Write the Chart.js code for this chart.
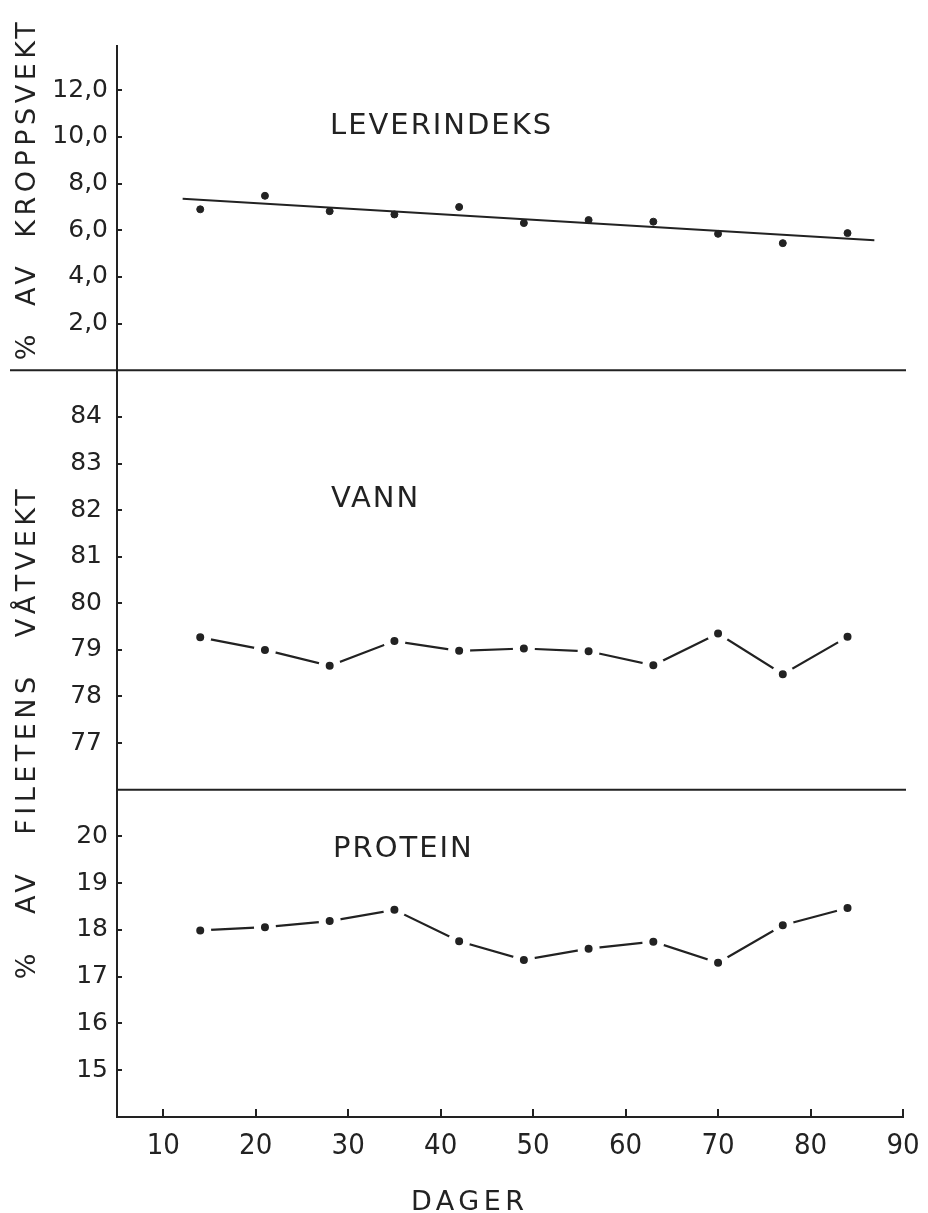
<!DOCTYPE html>
<html>
<head>
<meta charset="utf-8">
<script src="https://cdn.jsdelivr.net/npm/chart.js@4.4.0/dist/chart.umd.min.js"></script>
<style>
  html, body { margin: 0; padding: 0; background: #fff; }
  #wrap { position: relative; width: 928px; height: 1213px; }
  canvas { position: absolute; left: 0; top: 0; }
  .lbl { position: absolute; font-family: 'DejaVu Sans', sans-serif; color: #222; white-space: nowrap; line-height: 1; }
  .panel { font-size: 29px; letter-spacing: 2px; }
  .axt { font-size: 27px; letter-spacing: 4.5px; }
  .rot { transform: translate(-50%, -50%) rotate(-90deg); }
</style>
</head>
<body>
<div id="wrap">
  <canvas id="chart" width="928" height="1213"></canvas>
  <div class="lbl panel" style="left:330px; top:110px;">LEVERINDEKS</div>
  <div class="lbl panel" style="left:331px; top:483px;">VANN</div>
  <div class="lbl panel" style="left:333px; top:833px;">PROTEIN</div>
  <div class="lbl axt" style="left:411px; top:1187px;">DAGER</div>
  <div class="lbl axt rot" style="left:25px; top:189px; word-spacing:11px;">% AV KROPPSVEKT</div>
  <div class="lbl axt rot" style="left:25px; top:732px; word-spacing:22px;">% AV FILETENS VÅTVEKT</div>
</div>
<script>
// dager etter start
var days = [14, 21, 28, 35, 42, 49, 56, 63, 70, 77, 84];

// leverindeks, % av kroppsvekt
var leverindeks = [6.90, 7.48, 6.82, 6.68, 7.00, 6.31, 6.44, 6.37, 5.85, 5.45, 5.88];
// regresjonslinje (endepunkter)
var trendX = [12.1, 86.9];
var trendY = [7.35, 5.57];

// vann og protein, % av filetens våtvekt
var vann = [79.27, 79.00, 78.66, 79.19, 78.98, 79.03, 78.97, 78.67, 79.35, 78.48, 79.28];
var protein = [17.99, 18.06, 18.19, 18.43, 17.76, 17.36, 17.60, 17.75, 17.30, 18.10, 18.47];

var xTicks = [10, 20, 30, 40, 50, 60, 70, 80, 90];
var topTicks = [2, 4, 6, 8, 10, 12];
var midTicks = [77, 78, 79, 80, 81, 82, 83, 84];
var botTicks = [15, 16, 17, 18, 19, 20];

var ink = "#222";

function pts(ys) {
    return days.map(function (d, i) { return { x: d, y: ys[i] }; });
}

function yAxis(min, max, ticks, weight, stackWeight, pad, fmt) {
    return {
        type: "linear",
        position: "left",
        stack: "panels",
        stackWeight: stackWeight,
        weight: weight,
        min: min,
        max: max,
        afterBuildTicks: function (s) { s.ticks = ticks.map(function (v) { return { value: v }; }); },
        afterFit: function (s) { s.width = 117; },
        border: { display: true, color: ink, width: 2 },
        grid: { drawOnChartArea: false, drawTicks: true, tickLength: -5, color: ink, lineWidth: 2 },
        ticks: { padding: pad, color: ink, autoSkip: false, font: { family: "DejaVu Sans", size: 25 }, callback: fmt }
    };
}

// skillelinjer mellom panelene
var dividers = {
    id: "dividers",
    afterDraw: function (chart) {
        var ctx = chart.ctx, area = chart.chartArea, sc = chart.scales;
        ctx.save();
        ctx.strokeStyle = ink;
        ctx.lineWidth = 2;
        ctx.beginPath();
        ctx.moveTo(10, sc.yTop.bottom);
        ctx.lineTo(area.right + 3, sc.yTop.bottom);
        ctx.moveTo(area.left, sc.yMid.bottom);
        ctx.lineTo(area.right + 3, sc.yMid.bottom);
        ctx.stroke();
        ctx.restore();
    }
};

// linje uten markører, og markører med hvit ring som gir åpning i linja
function seriesLine(ys, axis) {
    return { data: pts(ys), yAxisID: axis, order: 2, pointRadius: 0,
             borderColor: ink, borderWidth: 2.2, fill: false, tension: 0 };
}
function seriesDots(ys, axis) {
    return { type: "scatter", data: pts(ys), yAxisID: axis, order: 1,
             pointRadius: 7.5, pointBorderWidth: 7,
             pointBackgroundColor: ink, pointBorderColor: "#fff" };
}

new Chart(document.getElementById("chart").getContext("2d"), {
    type: "line",
    data: {
        datasets: [
            { type: "scatter", data: pts(leverindeks), yAxisID: "yTop", order: 1, pointRadius: 3.5,
              backgroundColor: ink, borderColor: ink, pointBorderWidth: 1 },
            { data: [{ x: trendX[0], y: trendY[0] }, { x: trendX[1], y: trendY[1] }], yAxisID: "yTop",
              order: 2, pointRadius: 0, borderColor: ink, borderWidth: 2 },
            seriesLine(vann, "yMid"),
            seriesDots(vann, "yMid"),
            seriesLine(protein, "yBot"),
            seriesDots(protein, "yBot")
        ]
    },
    options: {
        responsive: false,
        animation: false,
        events: [],
        layout: { padding: { top: 46, right: 25, left: 0, bottom: 0 } },
        plugins: { legend: { display: false }, tooltip: { enabled: false } },
        scales: {
            x: {
                type: "linear",
                position: "bottom",
                min: 5,
                max: 90,
                afterBuildTicks: function (s) { s.ticks = xTicks.map(function (v) { return { value: v }; }); },
                afterFit: function (s) { s.height = 96; s.paddingLeft = 0; s.paddingRight = 0; },
                border: { display: true, color: ink, width: 2 },
                grid: { drawOnChartArea: false, drawTicks: true, tickLength: -8, color: ink, lineWidth: 2 },
                ticks: { padding: 20, color: ink, maxRotation: 0, autoSkip: false,
                         font: { family: "'Liberation Sans Narrow', 'DejaVu Sans Condensed', sans-serif", size: 29 } }
            },
            yTop: yAxis(0, 13.9, topTicks, 3, 324, 14, function (v) { return v.toFixed(1).replace(".", ","); }),
            yMid: yAxis(76, 85, midTicks, 2, 419, 20, function (v) { return String(v); }),
            yBot: yAxis(14, 21, botTicks, 1, 327, 14, function (v) { return String(v); })
        }
    },
    plugins: [dividers]
});
</script>
</body>
</html>
